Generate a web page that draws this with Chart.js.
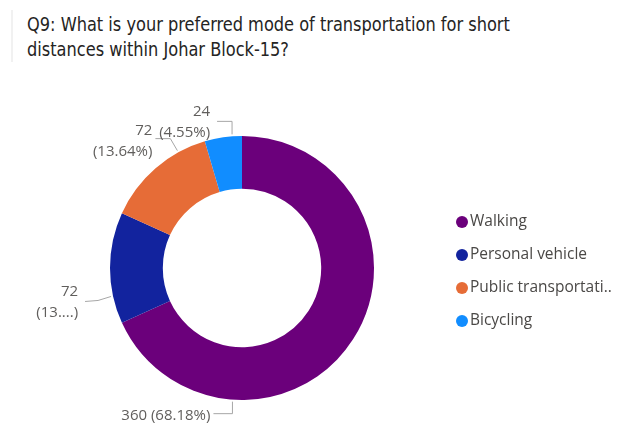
<!DOCTYPE html>
<html>
<head>
<meta charset="utf-8">
<script src="https://cdn.jsdelivr.net/npm/chart.js@4.4.1/dist/chart.umd.min.js"></script>
<style>
  html, body { margin: 0; padding: 0; background: #fff; }
  #lienzo { position: relative; width: 618px; height: 428px; overflow: hidden; }
  #titulo {
    position: absolute; left: 27px; top: 12px; white-space: nowrap;
    font-family: "DejaVu Sans Condensed", "DejaVu Sans", sans-serif;
    font-size: 20px; line-height: 25px; color: #252423;
    transform: scaleX(0.9); transform-origin: 0 0;
  }
  #borde { position: absolute; left: 11px; top: 10px; width: 2px; height: 52px; background: #f1f1f1; }
  canvas { position: absolute; left: 0; top: 0; }
</style>
</head>
<body>
<div id="lienzo">
  <div id="borde"></div>
  <div id="titulo">Q9: What is your preferred mode of transportation for short<br>distances within Johar Block-15?</div>
  <canvas id="graficoDona" width="618" height="428"></canvas>
</div>
<script>
// Datos de la encuesta
const categorias = ['Walking', 'Personal vehicle', 'Public transportation', 'Bicycling'];
const respuestas = [360, 72, 72, 24];
const colores = ['#6B007B', '#12239E', '#E66C37', '#118DFF'];

// Ubicación de cada etiqueta: punto sobre el arco (fracción del sector),
// guía (puntos relativos al ancla) y texto (relativo al ancla, alineado a la derecha)
const guias = [
  { frac: 0.75, linea: [[0, 0], [0, 12], [-19, 12]], tx: -22, ty: 14, enLinea: true },
  { frac: 0.25, linea: [[0, 0], [-13, 4], [-26, 5]], tx: -33, ty: -5, maxPct: 44 },
  { frac: 0.746, linea: [[0, 0], [-7, -12], [-22, -12]], tx: -25, ty: -20 },
  { frac: 0.74, linea: [[0, 0], [0, -13], [-15, -13]], tx: -22, ty: -23 }
];

const total = respuestas.reduce((a, b) => a + b, 0);
const fuente = '"Open Sans", "Noto Sans", sans-serif';

function recortar(ctx, texto, ancho, sufijo) {
  if (ctx.measureText(texto).width <= ancho) return texto;
  let t = texto;
  while (t.length > 1 && ctx.measureText(t + sufijo).width > ancho) t = t.slice(0, -1);
  return t + sufijo;
}

// Etiquetas de datos con líneas guía
const etiquetasDatos = {
  id: 'etiquetasDatos',
  afterDatasetsDraw(chart) {
    const ctx = chart.ctx;
    const arcos = chart.getDatasetMeta(0).data;
    ctx.save();
    ctx.font = '15px ' + fuente;
    ctx.textAlign = 'right';
    ctx.textBaseline = 'middle';
    arcos.forEach((arco, i) => {
      const g = guias[i];
      const a = arco.startAngle + (arco.endAngle - arco.startAngle) * g.frac;
      const r = arco.outerRadius + 2;
      const ax = arco.x + Math.cos(a) * r;
      const ay = arco.y + Math.sin(a) * r;

      ctx.strokeStyle = '#a6a6a6';
      ctx.lineWidth = 1;
      ctx.beginPath();
      g.linea.forEach(([dx, dy], k) => {
        if (k === 0) ctx.moveTo(ax + dx, ay + dy);
        else ctx.lineTo(ax + dx, ay + dy);
      });
      ctx.stroke();

      const valor = respuestas[i];
      const pct = (valor / total * 100).toFixed(2) + '%';
      ctx.fillStyle = '#605E5C';
      if (g.enLinea) {
        ctx.fillText(valor + ' (' + pct + ')', ax + g.tx, ay + g.ty);
      } else {
        const p = g.maxPct ? recortar(ctx, '(' + pct, g.maxPct, '...') + ')' : '(' + pct + ')';
        ctx.fillText(String(valor), ax + g.tx, ay + g.ty);
        ctx.fillText(p, ax + g.tx, ay + g.ty + 21);
      }
    });
    ctx.restore();
  }
};

// Leyenda a la derecha
const leyenda = {
  id: 'leyenda',
  afterDraw(chart) {
    const ctx = chart.ctx;
    const x0 = 462, y0 = 222, paso = 33;
    ctx.save();
    ctx.font = '15.5px ' + fuente;
    ctx.textAlign = 'left';
    ctx.textBaseline = 'middle';
    categorias.forEach((cat, i) => {
      const y = y0 + i * paso;
      ctx.fillStyle = colores[i];
      ctx.beginPath();
      ctx.arc(x0, y, 6, 0, Math.PI * 2);
      ctx.fill();
      ctx.fillStyle = '#4a4846';
      const ancho = chart.width - (x0 + 8) - 2;
      ctx.fillText(recortar(ctx, cat, ancho, '..'), x0 + 8, y);
    });
    ctx.restore();
  }
};

new Chart(document.getElementById('graficoDona'), {
  type: 'doughnut',
  data: {
    labels: categorias,
    datasets: [{
      data: respuestas,
      backgroundColor: colores,
      borderWidth: 0
    }]
  },
  options: {
    responsive: false,
    animation: false,
    cutout: '60%',
    layout: { padding: { left: 110, right: 244, top: 136, bottom: 28 } },
    plugins: {
      legend: { display: false },
      tooltip: { enabled: false }
    }
  },
  plugins: [etiquetasDatos, leyenda]
});
</script>
</body>
</html>
